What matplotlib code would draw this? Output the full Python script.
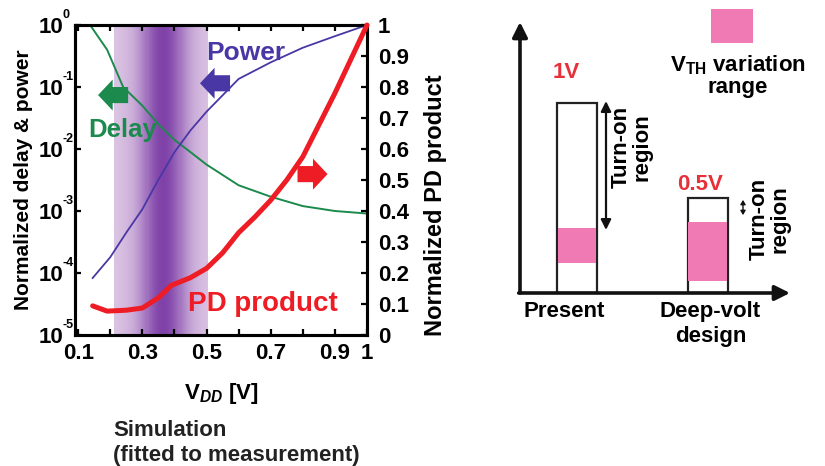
import numpy as np
import matplotlib
matplotlib.use("Agg")
import matplotlib.pyplot as plt
from matplotlib.patches import FancyArrow, Rectangle

plt.rcParams['font.family'] = ['Liberation Sans', 'DejaVu Sans']
plt.rcParams['font.weight'] = 'bold'
plt.rcParams['mathtext.fontset'] = 'custom'
plt.rcParams['mathtext.rm'] = 'Liberation Sans:bold'
plt.rcParams['mathtext.bf'] = 'Liberation Sans:bold'
plt.rcParams['mathtext.it'] = 'Liberation Sans:bold:italic'
plt.rcParams['mathtext.sf'] = 'Liberation Sans:bold'

# simulated curves vs supply voltage
vdd_delay = [0.137, 0.19, 0.24, 0.3, 0.35, 0.4, 0.45, 0.5, 0.6, 0.7, 0.8, 0.9, 1.0]
delay = [1.0, 0.4, 0.1, 0.05, 0.025, 0.014, 0.0089, 0.0056, 0.0026, 0.0017, 0.0012, 0.001, 0.00091]

vdd_power = [0.145, 0.2, 0.25, 0.3, 0.35, 0.4, 0.45, 0.5, 0.6, 0.7, 0.8, 0.9, 1.0]
power = [8.3e-5, 1.8e-4, 4.5e-4, 1.07e-3, 3.2e-3, 8.9e-3, 0.020, 0.040, 0.135, 0.25, 0.43, 0.66, 1.0]

vdd_pd = [0.145, 0.19, 0.25, 0.3, 0.35, 0.39, 0.45, 0.5, 0.55, 0.6, 0.65, 0.7, 0.75, 0.8, 0.9, 1.0]
pd_product = [0.094, 0.077, 0.08, 0.087, 0.12, 0.16, 0.185, 0.215, 0.265, 0.33, 0.38, 0.435, 0.5, 0.575, 0.78, 1.0]

# optimum voltage window
band_lo, band_hi, band_peak = 0.21, 0.505, 0.365

x_ticks = [0.1, 0.2, 0.3, 0.4, 0.5, 0.6, 0.7, 0.8, 0.9, 1.0]
x_ticklabels = ['0.1', '', '0.3', '', '0.5', '', '0.7', '', '0.9', '1']
log_ticks = [1e-5, 1e-4, 1e-3, 1e-2, 1e-1, 1e0]
log_exponents = ['-5', '-4', '-3', '-2', '-1', '0']
pd_ticks = [0, 0.1, 0.2, 0.3, 0.4, 0.5, 0.6, 0.7, 0.8, 0.9, 1]
pd_ticklabels = ['0', '0.1', '0.2', '0.3', '0.4', '0.5', '0.6', '0.7', '0.8', '0.9', '1']

# schematic: supply voltage and Vth variation range per design
designs = ['Present', 'Deep-volt\ndesign']
supply = [1.0, 0.5]
supply_labels = ['1V', '0.5V']
vth_lo = [0.158, 0.063]
vth_hi = [0.342, 0.374]

green = '#1b8a4c'
purple = '#4a37a6'
red = '#ee1c24'
pink = '#f07ab4'

fig = plt.figure(figsize=(8.25, 4.66), dpi=100)
ax = fig.add_axes([75 / 825, 1 - 335 / 466, 292 / 825, 310 / 466])
ax.set_yscale('log')
ax.set_xlim(0.09, 1.0)
ax.set_ylim(1e-5, 1)

# gradient band drawn as thin vertical slices
light = np.array([0.86, 0.77, 0.89])
dark = np.array([0.50, 0.26, 0.66])
edges = np.linspace(band_lo, band_hi, 90)
for a, b in zip(edges[:-1], edges[1:]):
    t = np.exp(-(((a + b) / 2 - band_peak) / 0.075) ** 2)
    ax.axvspan(a, b, color=light * (1 - t) + dark * t, lw=0, zorder=0)

ax.plot(vdd_delay, delay, color=green, lw=1.4, zorder=3)
ax.plot(vdd_power, power, color=purple, lw=1.3, zorder=3)

ax.set_xticks(x_ticks)
ax.set_xticklabels(x_ticklabels)
ax.set_yticks(log_ticks)
ax.set_yticklabels(['10'] * len(log_ticks))
ax.minorticks_off()
ax.tick_params(axis='both', direction='in', length=4, width=1.6, labelsize=16, top=True)
ax.tick_params(axis='y', pad=8.5)
ax.tick_params(axis='x', pad=6)
for s in ax.spines.values():
    s.set_linewidth(2.2)

# small exponents next to each "10"
for t, e in zip(log_ticks, log_exponents):
    ax.annotate(e, xy=(0, t), xycoords=('axes fraction', 'data'), xytext=(-9, 3),
                textcoords='offset points', fontsize=9, fontweight='bold',
                ha='left', va='bottom', annotation_clip=False)

ax.set_xlabel(r'V$_{\mathit{DD}}$ [V]', fontsize=16, fontweight='bold', labelpad=12)
ax.set_ylabel('Normalized delay & power', fontsize=15, fontweight='bold')
ax.yaxis.set_label_coords(-0.145, 0.5)

ax2 = ax.twinx()
ax2.set_ylim(0, 1)
ax2.plot(vdd_pd, pd_product, color=red, lw=3.6, solid_capstyle='round', zorder=3, clip_on=False)
ax2.set_yticks(pd_ticks)
ax2.set_yticklabels(pd_ticklabels)
ax2.tick_params(axis='y', direction='in', length=4, width=1.6, labelsize=16, pad=8)
ax2.set_ylabel('Normalized PD product', fontsize=17, fontweight='bold')
ax2.yaxis.set_label_coords(1.195, 0.42)
for s in ax2.spines.values():
    s.set_linewidth(2.2)

# curve labels and direction arrows
ax2.text(0.586, 0.91, 'Power', color=purple, fontsize=19, fontweight='bold',
         ha='center', va='center', transform=ax2.transAxes)
ax2.text(0.165, 0.66, 'Delay', color=green, fontsize=18.5, fontweight='bold',
         ha='center', va='center', transform=ax2.transAxes)
ax2.text(0.645, 0.10, 'PD product', color=red, fontsize=20, fontweight='bold',
         ha='center', va='center', transform=ax2.transAxes)

arrow_kw = dict(width=0.052, head_width=0.10, head_length=0.05,
                length_includes_head=True, transform=ax2.transAxes, zorder=5, lw=0)
ax2.add_patch(FancyArrow(0.182, 0.774, -0.103, 0, color=green, **arrow_kw))
ax2.add_patch(FancyArrow(0.531, 0.812, -0.103, 0, color=purple, **arrow_kw))
ax2.add_patch(FancyArrow(0.762, 0.519, 0.103, 0, color=red, **arrow_kw))

fig.text(113 / 825, 1 - 431 / 466, 'Simulation', fontsize=16, fontweight='bold',
         ha='left', va='center', color='#222222')
fig.text(113 / 825, 1 - 455 / 466, '(fitted to measurement)', fontsize=16,
         fontweight='bold', ha='left', va='center', color='#222222')

# turn-on region schematic
px = 190.0  # pixels per volt
ax3 = fig.add_axes([520 / 825, 1 - 293 / 466, 280 / 825, 288 / 466])
ax3.set_xlim(0, 280)
ax3.set_ylim(0, 288 / px)
ax3.axis('off')

head = dict(arrowstyle='-|>,head_length=0.9,head_width=0.45', lw=2.6, color='#111111',
            shrinkA=0, shrinkB=0)
ax3.annotate('', xy=(0, 271 / px), xytext=(0, 0), arrowprops=head, annotation_clip=False)
ax3.annotate('', xy=(270, 0), xytext=(-1.3, 0), arrowprops=head, annotation_clip=False)

bar_x = [57, 187.5]
ax3.bar(bar_x, supply, width=40, color='white', edgecolor='#222222', lw=1.6, zorder=2)
ax3.bar(bar_x, np.subtract(vth_hi, vth_lo), bottom=vth_lo, width=38.5,
        color=pink, lw=0, zorder=3)

ax3.text(bar_x[0] - 11, supply[0] + 0.158, supply_labels[0], color='#e8303a',
         fontsize=16, fontweight='bold', ha='center', va='center')
ax3.text(bar_x[1] - 7, supply[1] + 0.07, supply_labels[1], color='#e8303a',
         fontsize=16, fontweight='bold', ha='center', va='center')

dbl = dict(arrowstyle='<|-|>,head_length=0.6,head_width=0.3', lw=1.6, color='#111111',
           shrinkA=0, shrinkB=0)
ax3.annotate('', xy=(86, vth_hi[0] - 0.01), xytext=(86, supply[0] + 0.01), arrowprops=dbl)
ax3.text(112, 0.77, 'Turn-on\nregion', rotation=90, fontsize=16, fontweight='bold',
         ha='center', va='center', linespacing=1.0)
small = dict(arrowstyle='<|-|>,head_length=0.25,head_width=0.15', lw=1.0, color='#111111',
             shrinkA=0, shrinkB=0)
ax3.annotate('', xy=(223, 0.41), xytext=(223, 0.49), arrowprops=small)
ax3.text(250, 0.39, 'Turn-on\nregion', rotation=90, fontsize=16, fontweight='bold',
         ha='center', va='center', linespacing=1.0)

for x, name in zip(bar_x, designs):
    ax3.text(x - 13 if x < 100 else x + 3, -0.04, name, fontsize=16, fontweight='bold',
             ha='center', va='top', linespacing=1.25)

ax3.add_patch(Rectangle((191, 1.316), 42, 0.179, color=pink, lw=0, clip_on=False))
ax3.text(218, 1.20, r'V$_{\mathbf{TH}}$ variation', fontsize=16, fontweight='bold',
         ha='center', va='center')
ax3.text(218, 1.08, 'range', fontsize=16, fontweight='bold', ha='center', va='center')

fig.savefig('out.png', dpi=100)
